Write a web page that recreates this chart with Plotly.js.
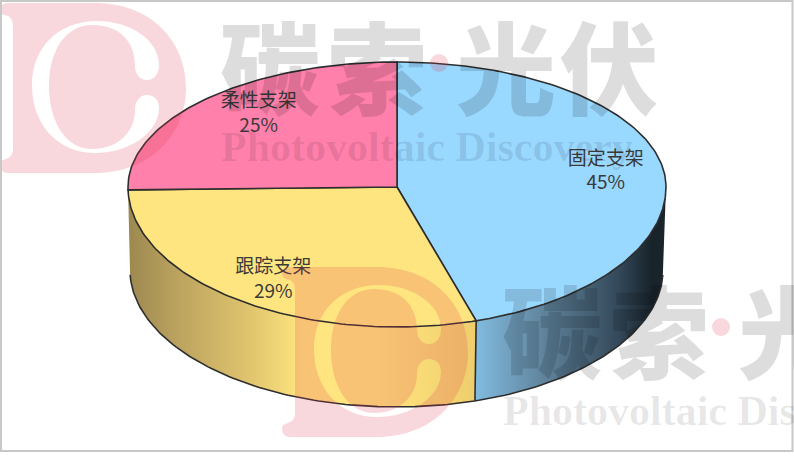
<!DOCTYPE html>
<html><head><meta charset="utf-8">
<script src="https://cdn.plot.ly/plotly-3.0.1.min.js"></script>
<style>html,body{margin:0;padding:0;background:#fff}#c{width:794px;height:465px}</style>
</head><body><div id="c"></div>
<script>
// ---- data ----
var categories = ['固定支架','跟踪支架','柔性支架'];
var shares = [45.2,29.4,25.3];
var shareLabels = ['45%','29%','25%'];
var topColors = ['#99D8FF','#FFE57F','#FF80AB'];
// ---- wall shading, left to right ----
var wallScales = [
  [[0,'#82bce0'],[0.35,'#61859e'],[0.75,'#34495a'],[0.93,'#172229'],[1,'#1a252d']],
  [[0,'#9c8850'],[0.15,'#bda45f'],[0.35,'#e0c46e'],[0.5,'#ffe57f'],[0.72,'#ffe57f'],[1,'#efcd6c']]
];
// ---- pie geometry (perspective ellipse in page-like axis units) ----
var cx=397, cy=187, rx=269, ryBack=125, ryFront=140;
var bx=396.5, by=270, brx=266.5, bry=137;
var labelR=[0.785,0.785,0.72], labelDy=[0,5,-9];
var INK='#2e2e2e';

function rad(d){return d*Math.PI/180;}
function topPt(a,r){ r=r===undefined?1:r; var c=Math.cos(rad(a));
  return [cx+rx*r*Math.sin(rad(a)), cy-(c>0?ryBack:ryFront)*r*c]; }
function botPt(a){ return [bx+brx*Math.sin(rad(a)), by-bry*Math.cos(rad(a))]; }
function arc(f,a0,a1){ var p=[],n=Math.max(2,Math.ceil(Math.abs(a1-a0)));
  for(var i=0;i<=n;i++) p.push(f(a0+(a1-a0)*i/n)); return p; }

var total=shares.reduce(function(a,b){return a+b;},0), ang=[0];
shares.forEach(function(s,i){ang.push(ang[i]+s/total*360);});
var traces=[];
function poly(pts,o){ var t={x:pts.map(function(p){return p[0];}),y:pts.map(function(p){return p[1];}),
  mode:'lines',hoverinfo:'skip',showlegend:false}; for(var k in o)t[k]=o[k]; traces.push(t); }

// front walls
[0,1].forEach(function(i){
  var a0=Math.max(ang[i],90), a1=Math.min(ang[i+1],270);
  var pts=arc(topPt,a0,a1).concat(arc(botPt,a1,a0)); pts.push(pts[0]);
  poly(pts,{fill:'toself',line:{width:0,color:'rgba(0,0,0,0)'},fillcolor:'rgba(0,0,0,0)',
    fillgradient:{type:'horizontal',colorscale:wallScales[i]}});
});
// wall outline
poly(arc(botPt,92,268),{line:{color:INK,width:1.6}});
poly([topPt(ang[1]),botPt(ang[1])],{line:{color:INK,width:1.6}});
// top slices
shares.forEach(function(s,i){
  var pts=[[cx,cy]].concat(arc(topPt,ang[i],ang[i+1])); pts.push([cx,cy]);
  poly(pts,{fill:'toself',fillcolor:topColors[i],line:{color:INK,width:1.6}});
});
// labels
traces.push({x:shares.map(function(s,i){return topPt((ang[i]+ang[i+1])/2,labelR[i])[0];}),
  y:shares.map(function(s,i){return topPt((ang[i]+ang[i+1])/2,labelR[i])[1]+labelDy[i];}),
  text:categories.map(function(c,i){return c+'<br>'+shareLabels[i];}),
  mode:'text',textposition:'middle center',hoverinfo:'skip',showlegend:false,
  textfont:{family:'"Noto Sans CJK SC","Noto Sans",sans-serif',size:19,color:'#3a3a3a'}});

// ---- watermark ----
var PINK='rgba(220,60,80,0.2)';
function logo(dx,dy){
  var segs=[
   'M',8,3,'L',95,3,'C',150,3,186,40,186,88,'C',186,135,150,173,95,173,'L',8,173,
   'C',2,173,0,168,0,165,'C',0,160,4,160,8,158,'C',12,156,13,153,13,148,'L',13,28,
   'C',13,22,12,18,8,16,'C',4,15,0,14,0,10,'C',0,6,3,3,8,3,'Z',
   'M',97,21,'C',130,21,159,40,159,65,'C',159,74,154,80,147,80,'C',140,80,135,74,135,66,
   'C',135,40,118,25,92,25,'C',66,25,49,50,49,86,'C',49,122,66,149,92,149,
   'C',118,149,135,132,135,110,'C',135,101,140,95,147,95,'C',154,95,159,100,159,108,
   'C',159,132,130,153,95,153,'C',58,153,32,125,32,85,'C',32,48,58,21,97,21,'Z'];
  var out='',odd=true;
  segs.forEach(function(s){ if(typeof s==='string'){out+=s+' ';odd=true;}
    else {out+=(odd?s+dx:s+dy)+' ';odd=!odd;} });
  return out;
}
var shapes=[];
[[0,0],[282,264]].forEach(function(o){
  shapes.push({type:'path',path:logo(o[0],o[1]),fillrule:'evenodd',fillcolor:PINK,line:{width:0},layer:'above'});
  shapes.push({type:'circle',x0:430+o[0],x1:448+o[0],y0:54+o[1],y1:72+o[1],fillcolor:PINK,line:{width:0},layer:'above'});
});
shapes.push({type:'rect',x0:1,y0:1,x1:792.5,y1:451,line:{color:'#c8c8c8',width:2},fillcolor:'rgba(0,0,0,0)',layer:'above'});

var anns=[];
var markChars=['碳','索','光','伏'], markX=[270,377,506,609];
[[0,0],[282,264]].forEach(function(o){
  markChars.forEach(function(ch,i){
    if(markX[i]+o[0]>794) return;
    anns.push({x:markX[i]+o[0],y:63+o[1],text:ch,showarrow:false,xanchor:'center',yanchor:'middle',
      font:{family:'"Noto Sans CJK SC"',size:100,weight:900,color:'rgba(0,0,0,0.135)'}});
  });
  anns.push({x:219+o[0],y:147+o[1],text:'<b>Photovoltaic Discovery</b>',showarrow:false,xanchor:'left',yanchor:'middle',
    font:{family:'"Liberation Serif",serif',size:42,color:'rgba(0,0,0,0.095)'}});
});

Plotly.newPlot('c',traces,{
  width:794,height:465,margin:{l:0,r:0,t:0,b:0},paper_bgcolor:'#fff',plot_bgcolor:'#fff',
  xaxis:{range:[0,794],visible:false,fixedrange:true},
  yaxis:{range:[465,0],visible:false,fixedrange:true},
  shapes:shapes,annotations:anns,showlegend:false
},{displayModeBar:false,staticPlot:true});
</script></body></html>
